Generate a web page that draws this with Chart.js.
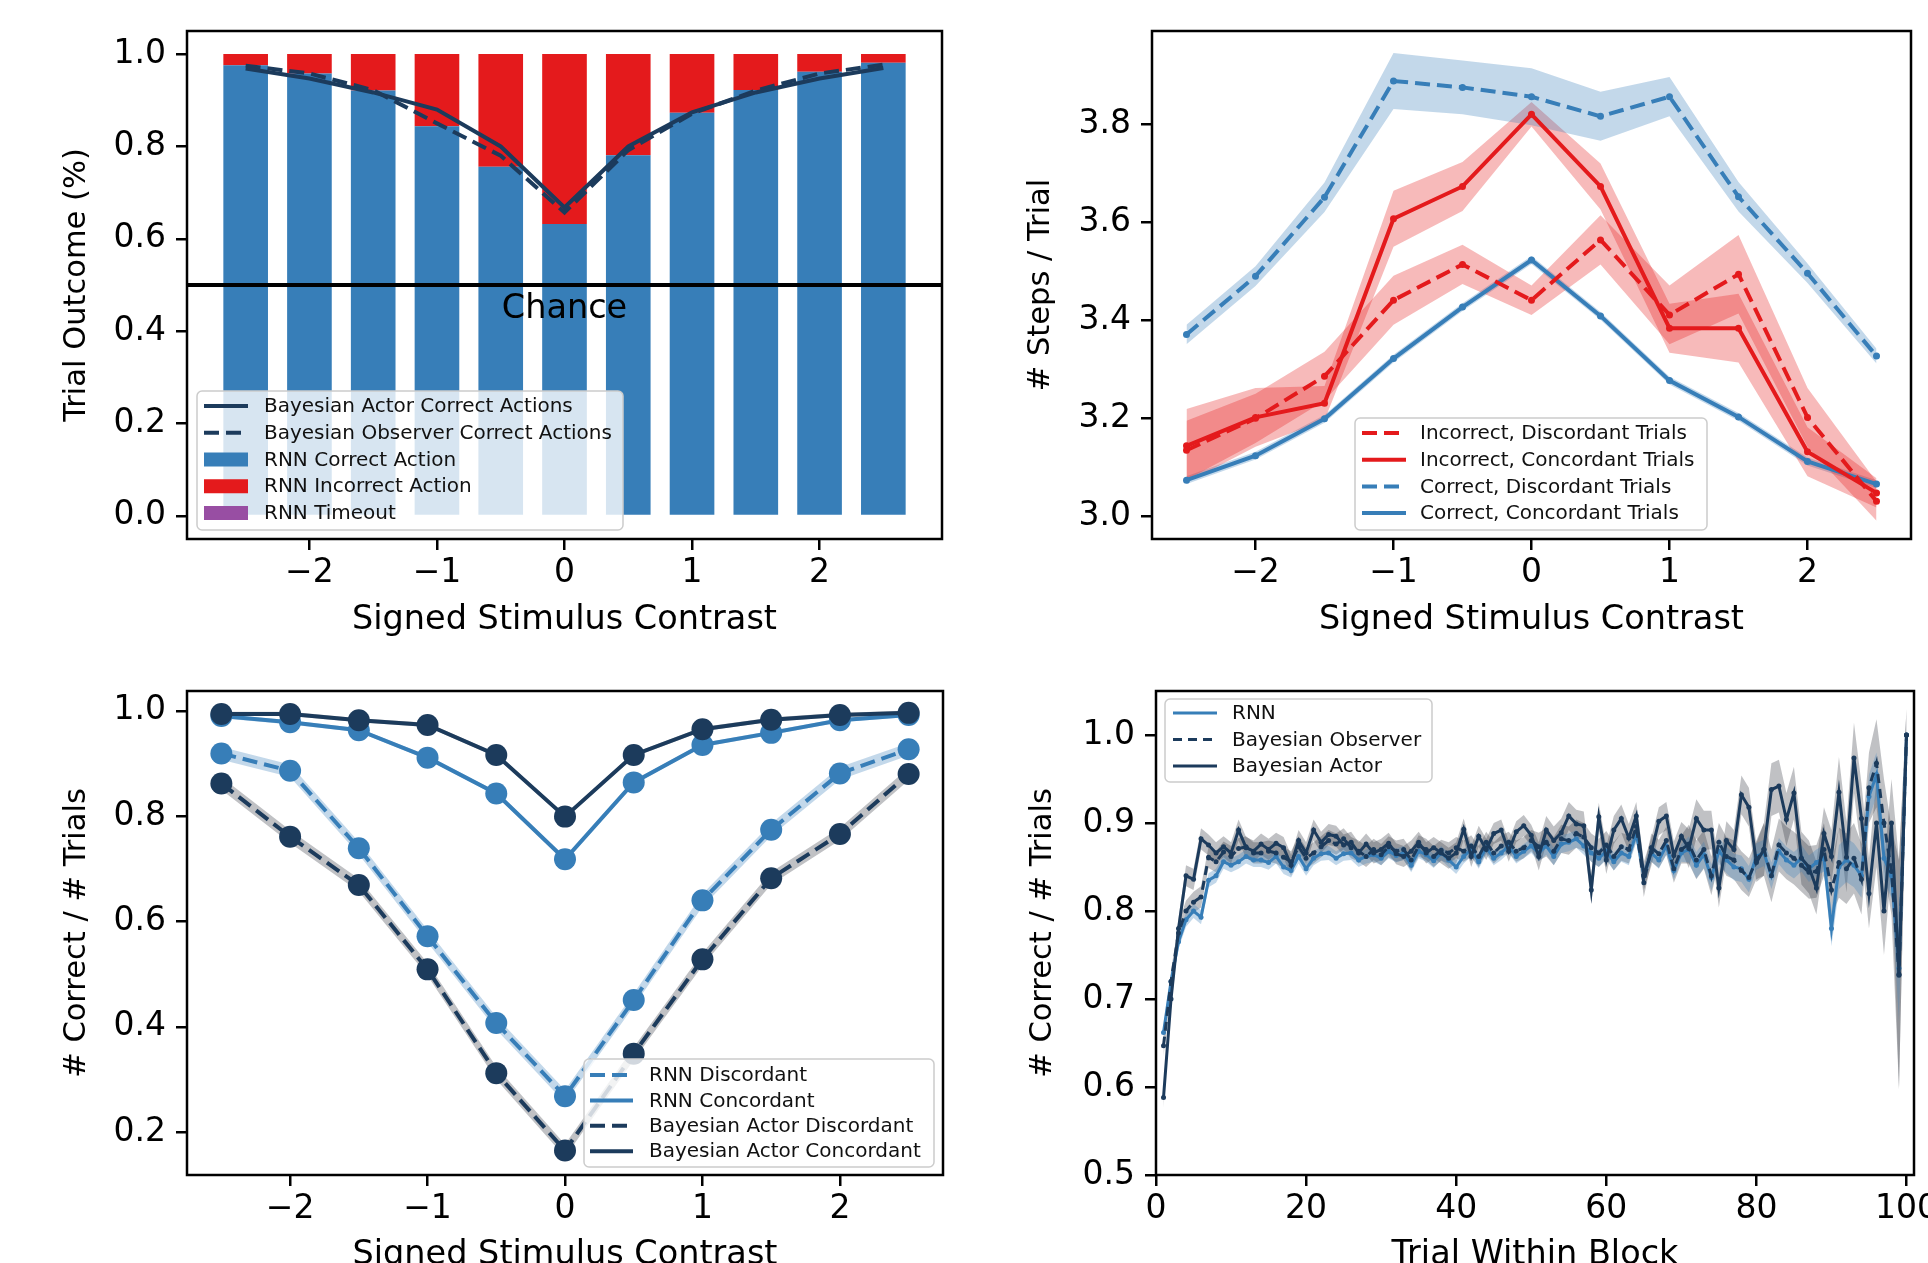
<!DOCTYPE html>
<html>
<head>
<meta charset="utf-8">
<script src="https://cdn.jsdelivr.net/npm/chart.js@4.4.0/dist/chart.umd.min.js"></script>
<style>
  html, body { margin: 0; padding: 0; background: #fff; width: 1928px; height: 1263px; overflow: hidden; position: relative; }
  .panel { position: absolute; }
</style>
</head>
<body>
<div class="panel" style="left:0;top:0;width:964px;height:640px"><canvas id="c1"></canvas></div>
<div class="panel" style="left:964px;top:0;width:1000px;height:640px"><canvas id="c2"></canvas></div>
<div class="panel" style="left:0;top:660px;width:964px;height:640px"><canvas id="c3"></canvas></div>
<div class="panel" style="left:964px;top:660px;width:1000px;height:640px"><canvas id="c4"></canvas></div>
<script>
// ---- data ----
const CONTRAST = [-2.5, -2, -1.5, -1, -0.5, 0, 0.5, 1, 1.5, 2, 2.5];
const CONTRAST_TICKS = [-2, -1, 0, 1, 2];

// top left: trial outcome
const rnnCorrect   = [0.976, 0.958, 0.921, 0.844, 0.756, 0.632, 0.781, 0.873, 0.922, 0.962, 0.981];
const rnnIncorrect = [0.024, 0.042, 0.079, 0.156, 0.244, 0.368, 0.219, 0.127, 0.078, 0.038, 0.019];
const rnnTimeout   = [0, 0, 0, 0, 0, 0, 0, 0, 0, 0, 0];
const actorCorrect    = [0.969, 0.947, 0.917, 0.880, 0.800, 0.668, 0.800, 0.874, 0.917, 0.947, 0.970];
const observerCorrect = [0.975, 0.958, 0.922, 0.850, 0.780, 0.657, 0.792, 0.871, 0.921, 0.958, 0.977];
const CHANCE = 0.5;
const OUTCOME_TICKS = [0, 0.2, 0.4, 0.6, 0.8, 1.0];

// top right: steps per trial
const incDisc     = [3.135, 3.200, 3.286, 3.441, 3.514, 3.441, 3.564, 3.411, 3.494, 3.202, 3.031];
const incDiscErr  = [0.060, 0.050, 0.050, 0.050, 0.040, 0.030, 0.050, 0.060, 0.080, 0.060, 0.040];
const incConc     = [3.144, 3.202, 3.231, 3.607, 3.673, 3.820, 3.673, 3.384, 3.384, 3.132, 3.048];
const incConcErr  = [0.075, 0.060, 0.035, 0.057, 0.050, 0.025, 0.047, 0.050, 0.070, 0.050, 0.030];
const corDisc     = [3.371, 3.490, 3.651, 3.888, 3.875, 3.856, 3.816, 3.856, 3.652, 3.496, 3.327];
const corDiscErr  = [0.020, 0.020, 0.030, 0.057, 0.055, 0.058, 0.050, 0.040, 0.030, 0.020, 0.015];
const corConc     = [3.074, 3.124, 3.199, 3.322, 3.427, 3.523, 3.409, 3.277, 3.203, 3.112, 3.066];
const corConcErr  = [0.008, 0.008, 0.008, 0.008, 0.008, 0.008, 0.008, 0.008, 0.008, 0.008, 0.008];
const STEPS_TICKS = [3.0, 3.2, 3.4, 3.6, 3.8];

// bottom left: correct fraction by contrast
const rnnDisc      = [0.919, 0.886, 0.739, 0.572, 0.407, 0.268, 0.451, 0.640, 0.774, 0.881, 0.927];
const rnnConc      = [0.990, 0.978, 0.963, 0.911, 0.843, 0.718, 0.864, 0.935, 0.958, 0.982, 0.992];
const actorDisc    = [0.862, 0.761, 0.669, 0.509, 0.312, 0.165, 0.349, 0.528, 0.682, 0.766, 0.880];
const actorConc    = [0.994, 0.994, 0.982, 0.973, 0.916, 0.799, 0.916, 0.965, 0.983, 0.992, 0.996];
const discErr      = [0.012, 0.012, 0.012, 0.012, 0.012, 0.012, 0.012, 0.012, 0.012, 0.012, 0.012];
const concErr      = [0.004, 0.004, 0.004, 0.004, 0.004, 0.004, 0.004, 0.004, 0.004, 0.004, 0.004];
const CORRECT_TICKS = [0.2, 0.4, 0.6, 0.8, 1.0];

// bottom right: correct fraction by trial within block
const TRIALS = [
  1, 2, 3, 4, 5, 6, 7, 8, 9, 10, 11, 12, 13, 14, 15, 16, 17, 18, 19, 20,
  21, 22, 23, 24, 25, 26, 27, 28, 29, 30, 31, 32, 33, 34, 35, 36, 37, 38, 39, 40,
  41, 42, 43, 44, 45, 46, 47, 48, 49, 50, 51, 52, 53, 54, 55, 56, 57, 58, 59, 60,
  61, 62, 63, 64, 65, 66, 67, 68, 69, 70, 71, 72, 73, 74, 75, 76, 77, 78, 79, 80,
  81, 82, 83, 84, 85, 86, 87, 88, 89, 90, 91, 92, 93, 94, 95, 96, 97, 98, 99, 100
];
const rnnByTrial = [
  0.662, 0.720, 0.765, 0.790, 0.800, 0.793, 0.835, 0.840, 0.856, 0.852,
  0.856, 0.862, 0.858, 0.858, 0.855, 0.862, 0.850, 0.846, 0.862, 0.848,
  0.860, 0.865, 0.866, 0.860, 0.865, 0.866, 0.858, 0.862, 0.864, 0.860,
  0.868, 0.863, 0.866, 0.852, 0.868, 0.864, 0.857, 0.866, 0.858, 0.850,
  0.862, 0.870, 0.856, 0.872, 0.860, 0.866, 0.874, 0.862, 0.868, 0.874,
  0.866, 0.874, 0.862, 0.876, 0.878, 0.882, 0.874, 0.866, 0.860, 0.868,
  0.856, 0.866, 0.862, 0.888, 0.840, 0.866, 0.858, 0.874, 0.846, 0.866,
  0.870, 0.852, 0.864, 0.838, 0.868, 0.858, 0.850, 0.848, 0.836, 0.862,
  0.866, 0.840, 0.868, 0.858, 0.852, 0.860, 0.848, 0.855, 0.860, 0.780,
  0.850, 0.858, 0.852, 0.840, 0.930, 0.955, 0.860, 0.840, 0.735, 1.000
];
const observerByTrial = [
  0.647, 0.720, 0.775, 0.800, 0.810, 0.816, 0.861, 0.856, 0.867, 0.862,
  0.871, 0.873, 0.866, 0.866, 0.868, 0.866, 0.861, 0.856, 0.873, 0.860,
  0.866, 0.873, 0.880, 0.876, 0.882, 0.872, 0.868, 0.862, 0.870, 0.864,
  0.873, 0.868, 0.870, 0.858, 0.874, 0.870, 0.862, 0.869, 0.866, 0.872,
  0.868, 0.874, 0.862, 0.878, 0.866, 0.874, 0.878, 0.868, 0.872, 0.880,
  0.873, 0.878, 0.868, 0.882, 0.880, 0.888, 0.884, 0.872, 0.866, 0.875,
  0.862, 0.873, 0.870, 0.896, 0.832, 0.872, 0.865, 0.880, 0.848, 0.870,
  0.876, 0.858, 0.870, 0.840, 0.878, 0.862, 0.858, 0.846, 0.838, 0.858,
  0.870, 0.840, 0.875, 0.866, 0.860, 0.852, 0.844, 0.845, 0.870, 0.824,
  0.855, 0.848, 0.860, 0.836, 0.940, 0.968, 0.900, 0.845, 0.728, 1.000
];
const actorByTrial = [
  0.588, 0.700, 0.780, 0.840, 0.836, 0.882, 0.875, 0.866, 0.873, 0.866,
  0.892, 0.872, 0.868, 0.876, 0.870, 0.877, 0.872, 0.852, 0.880, 0.866,
  0.892, 0.878, 0.887, 0.885, 0.875, 0.878, 0.866, 0.876, 0.866, 0.870,
  0.877, 0.865, 0.862, 0.868, 0.878, 0.866, 0.872, 0.866, 0.860, 0.866,
  0.893, 0.862, 0.885, 0.870, 0.888, 0.892, 0.868, 0.890, 0.897, 0.886,
  0.862, 0.892, 0.880, 0.889, 0.908, 0.899, 0.897, 0.824, 0.907, 0.858,
  0.892, 0.905, 0.883, 0.908, 0.840, 0.867, 0.902, 0.908, 0.863, 0.885,
  0.871, 0.905, 0.892, 0.892, 0.826, 0.880, 0.870, 0.932, 0.918, 0.855,
  0.870, 0.938, 0.942, 0.904, 0.934, 0.860, 0.850, 0.826, 0.888, 0.862,
  0.935, 0.861, 0.974, 0.905, 0.820, 0.900, 0.800, 0.900, 0.727, 1.000
];
const rnnTrialErr = [
  0.008, 0.008, 0.008, 0.008, 0.008, 0.008, 0.008, 0.008, 0.008, 0.008,
  0.008, 0.008, 0.008, 0.008, 0.008, 0.008, 0.008, 0.008, 0.008, 0.008,
  0.008, 0.008, 0.008, 0.008, 0.008, 0.008, 0.008, 0.008, 0.008, 0.008,
  0.008, 0.008, 0.008, 0.008, 0.008, 0.008, 0.008, 0.008, 0.008, 0.008,
  0.008, 0.008, 0.008, 0.008, 0.008, 0.008, 0.008, 0.008, 0.008, 0.008,
  0.010, 0.010, 0.010, 0.010, 0.010, 0.010, 0.010, 0.010, 0.010, 0.010,
  0.010, 0.010, 0.010, 0.010, 0.010, 0.010, 0.010, 0.010, 0.010, 0.010,
  0.015, 0.015, 0.015, 0.015, 0.015, 0.015, 0.015, 0.015, 0.015, 0.015,
  0.015, 0.015, 0.015, 0.015, 0.015, 0.015, 0.015, 0.015, 0.015, 0.020,
  0.025, 0.025, 0.025, 0.025, 0.025, 0.025, 0.025, 0.025, 0.060, 0.000
];
const bayesTrialErr = [
  0.012, 0.012, 0.012, 0.012, 0.012, 0.012, 0.012, 0.012, 0.012, 0.012,
  0.012, 0.012, 0.012, 0.012, 0.012, 0.012, 0.012, 0.012, 0.012, 0.012,
  0.012, 0.012, 0.012, 0.012, 0.012, 0.012, 0.012, 0.012, 0.012, 0.012,
  0.012, 0.012, 0.012, 0.012, 0.012, 0.012, 0.012, 0.012, 0.012, 0.012,
  0.012, 0.012, 0.012, 0.012, 0.012, 0.012, 0.012, 0.012, 0.012, 0.012,
  0.016, 0.016, 0.016, 0.016, 0.016, 0.016, 0.016, 0.016, 0.016, 0.016,
  0.016, 0.016, 0.016, 0.016, 0.016, 0.016, 0.016, 0.016, 0.016, 0.016,
  0.022, 0.022, 0.022, 0.022, 0.022, 0.022, 0.022, 0.022, 0.022, 0.022,
  0.030, 0.030, 0.030, 0.030, 0.030, 0.030, 0.030, 0.030, 0.030, 0.030,
  0.040, 0.040, 0.040, 0.040, 0.040, 0.050, 0.050, 0.050, 0.130, 0.030
];
const TRIAL_TICKS = [0, 20, 40, 60, 80, 100];
const TRIAL_Y_TICKS = [0.5, 0.6, 0.7, 0.8, 0.9, 1.0];

// ---- styling ----
const RED = '#e41a1c';
const BLUE = '#377eb8';
const PURPLE = '#984ea3';
const NAVY = '#1c3b5c';
const RED_BAND = 'rgba(228, 26, 28, 0.3)';
const BLUE_BAND = 'rgba(55, 126, 184, 0.3)';
const GREY_BAND = 'rgba(45, 50, 58, 0.3)';
const FONT = 'DejaVu Sans';
const TICK_SIZE = 33;
const TITLE_SIZE = 33.5;
const YTITLE_SIZE = 30.5;

Chart.defaults.font.family = FONT;
Chart.defaults.color = '#000';
Chart.defaults.animation = false;

const minus = v => String(v).replace('-', '\u2212');

function scales(o) {
  const tickGrid = { display: true, drawOnChartArea: false, drawTicks: true, tickLength: 11, color: '#000', lineWidth: 2.5 };
  return {
    x: {
      type: 'linear', min: o.xMin, max: o.xMax, offset: false,
      grid: Object.assign({ offset: false }, tickGrid),
      border: { display: false },
      afterBuildTicks: s => { s.ticks = o.xTicks.map(v => ({ value: v })); },
      afterFit: s => { s.height = o.xHeight; },
      ticks: { autoSkip: false, maxRotation: 0, padding: 4, font: { size: TICK_SIZE }, callback: v => o.xFmt(v) },
      title: { display: true, text: o.xTitle, font: { size: TITLE_SIZE }, padding: { top: 0, bottom: o.xTitlePad } }
    },
    y: {
      type: 'linear', min: o.yMin, max: o.yMax,
      grid: tickGrid,
      border: { display: false },
      afterBuildTicks: s => { s.ticks = o.yTicks.map(v => ({ value: v })); },
      afterFit: s => { s.width = o.yWidth; },
      ticks: { autoSkip: false, padding: 10, font: { size: TICK_SIZE }, callback: v => v.toFixed(1) },
      title: { display: true, text: o.yTitle, font: { size: YTITLE_SIZE }, padding: { top: o.yTitlePad, bottom: 0 } }
    }
  };
}

function pts(xs, ys) { return xs.map((x, i) => ({ x: x, y: ys[i] })); }

function band(xs, ys, err, color, order) {
  return [
    { type: 'line', data: xs.map((x, i) => ({ x: x, y: ys[i] + err[i] })), borderColor: 'rgba(0,0,0,0)', borderWidth: 0, pointRadius: 0, fill: false, order: order },
    { type: 'line', data: xs.map((x, i) => ({ x: x, y: ys[i] - err[i] })), borderColor: 'rgba(0,0,0,0)', borderWidth: 0, pointRadius: 0, fill: '-1', backgroundColor: color, order: order }
  ];
}

function line(xs, ys, color, o) {
  return Object.assign({
    type: 'line', data: pts(xs, ys), borderColor: color, backgroundColor: color,
    pointBackgroundColor: color, pointBorderWidth: 0, borderWidth: 4, tension: 0, fill: false
  }, o);
}

// extras per canvas: legend boxes, chance line
const EXTRA = {
  c1: {
    chance: { value: CHANCE, label: 'Chance', labelX: 0, labelY: 0.448 },
    legend: { x: 10, y: 360, w: 426, h: 139, row0: 15, gap: 26.75, h0: 7, h1: 51, tx: 67, items: [
      { label: 'Bayesian Actor Correct Actions', color: NAVY, width: 4 },
      { label: 'Bayesian Observer Correct Actions', color: NAVY, width: 4, dash: [15, 7] },
      { label: 'RNN Correct Action', color: BLUE, box: true },
      { label: 'RNN Incorrect Action', color: RED, box: true },
      { label: 'RNN Timeout', color: PURPLE, box: true }
    ] }
  },
  c2: {
    legend: { x: 203, y: 387, w: 352, h: 112, row0: 15, gap: 26.7, h0: 7, h1: 51, tx: 65, items: [
      { label: 'Incorrect, Discordant Trials', color: RED, width: 4, dash: [15, 7] },
      { label: 'Incorrect, Concordant Trials', color: RED, width: 4 },
      { label: 'Correct, Discordant Trials', color: BLUE, width: 4, dash: [15, 7] },
      { label: 'Correct, Concordant Trials', color: BLUE, width: 4 }
    ] }
  },
  c3: {
    legend: { x: 397, y: 368, w: 350, h: 108, row0: 16, gap: 25.4, h0: 6, h1: 49, tx: 65, items: [
      { label: 'RNN Discordant', color: BLUE, width: 4, dash: [15, 7] },
      { label: 'RNN Concordant', color: BLUE, width: 4 },
      { label: 'Bayesian Actor Discordant', color: NAVY, width: 4, dash: [15, 7] },
      { label: 'Bayesian Actor Concordant', color: NAVY, width: 4 }
    ] }
  },
  c4: {
    legend: { x: 9, y: 8, w: 267, h: 83, row0: 14, gap: 26.5, h0: 8, h1: 52, tx: 67, items: [
      { label: 'RNN', color: BLUE, width: 3 },
      { label: 'Bayesian Observer', color: NAVY, width: 3, dash: [9, 6] },
      { label: 'Bayesian Actor', color: NAVY, width: 3 }
    ] }
  }
};

function drawLegend(chart, lg) {
  const { ctx, chartArea: a } = chart;
  const x = a.left + lg.x, y = a.top + lg.y;
  ctx.save();
  ctx.beginPath();
  ctx.roundRect(x, y, lg.w, lg.h, 5);
  ctx.fillStyle = 'rgba(255,255,255,0.8)';
  ctx.fill();
  ctx.strokeStyle = '#cccccc';
  ctx.lineWidth = 1.5;
  ctx.stroke();
  lg.items.forEach((it, i) => {
    const cy = y + lg.row0 + i * lg.gap;
    if (it.box) {
      ctx.fillStyle = it.color;
      ctx.fillRect(x + lg.h0, cy - 7, lg.h1 - lg.h0, 14);
    } else {
      ctx.strokeStyle = it.color;
      ctx.lineWidth = it.width;
      ctx.setLineDash(it.dash || []);
      ctx.beginPath();
      ctx.moveTo(x + lg.h0, cy);
      ctx.lineTo(x + lg.h1, cy);
      ctx.stroke();
      ctx.setLineDash([]);
    }
    ctx.fillStyle = '#111';
    ctx.font = '20px "' + FONT + '"';
    ctx.textAlign = 'left';
    ctx.textBaseline = 'middle';
    ctx.fillText(it.label, x + lg.tx, cy + 1);
  });
  ctx.restore();
}

const framePlugin = {
  id: 'frame',
  afterDatasetsDraw(chart) {
    const spec = EXTRA[chart.canvas.id];
    if (!spec || !spec.chance) return;
    const { ctx, chartArea: a, scales: s } = chart;
    const ch = spec.chance;
    const y = s.y.getPixelForValue(ch.value);
    ctx.save();
    ctx.strokeStyle = '#000';
    ctx.lineWidth = 4;
    ctx.beginPath();
    ctx.moveTo(a.left, y);
    ctx.lineTo(a.right, y);
    ctx.stroke();
    ctx.fillStyle = '#000';
    ctx.font = TITLE_SIZE + 'px "' + FONT + '"';
    ctx.textAlign = 'center';
    ctx.textBaseline = 'middle';
    ctx.fillText(ch.label, s.x.getPixelForValue(ch.labelX), s.y.getPixelForValue(ch.labelY));
    ctx.restore();
  },
  afterDraw(chart) {
    const spec = EXTRA[chart.canvas.id];
    const { ctx, chartArea: a } = chart;
    if (spec && spec.legend) drawLegend(chart, spec.legend);
    ctx.save();
    ctx.strokeStyle = '#000';
    ctx.lineWidth = 2.5;
    ctx.strokeRect(a.left, a.top, a.right - a.left, a.bottom - a.top);
    ctx.restore();
  }
};

const baseOptions = (padding, sc) => ({
  responsive: true,
  maintainAspectRatio: false,
  animation: false,
  layout: { padding: padding },
  plugins: { legend: { display: false }, tooltip: { enabled: false } },
  scales: sc
});

// ---- top left ----
new Chart(document.getElementById('c1'), {
  type: 'bar',
  data: {
    datasets: [
      line(CONTRAST, actorCorrect, NAVY, { pointRadius: 0, order: 1 }),
      line(CONTRAST, observerCorrect, NAVY, { pointRadius: 0, borderDash: [15, 7], order: 1 }),
      { type: 'bar', data: CONTRAST.map((x, i) => ({ x: x, y: [0, rnnCorrect[i]] })), backgroundColor: BLUE, grouped: false, barPercentage: 0.7, categoryPercentage: 1, order: 3 },
      { type: 'bar', data: CONTRAST.map((x, i) => ({ x: x, y: [rnnCorrect[i], rnnCorrect[i] + rnnIncorrect[i]] })), backgroundColor: RED, grouped: false, barPercentage: 0.7, categoryPercentage: 1, order: 3 },
      { type: 'bar', data: CONTRAST.map((x, i) => ({ x: x, y: [rnnCorrect[i] + rnnIncorrect[i], rnnCorrect[i] + rnnIncorrect[i] + rnnTimeout[i]] })), backgroundColor: PURPLE, grouped: false, barPercentage: 0.7, categoryPercentage: 1, order: 3 }
    ]
  },
  options: baseOptions({ left: 0, top: 31, right: 22, bottom: 0 }, scales({
    xMin: -2.96, xMax: 2.96, xTicks: CONTRAST_TICKS, xFmt: minus, xHeight: 101, xTitle: 'Signed Stimulus Contrast', xTitlePad: 0,
    yMin: -0.05, yMax: 1.05, yTicks: OUTCOME_TICKS, yWidth: 187, yTitle: 'Trial Outcome (%)', yTitlePad: 59
  })),
  plugins: [framePlugin]
});

// ---- top right ----
new Chart(document.getElementById('c2'), {
  type: 'line',
  data: {
    datasets: [
      ...band(CONTRAST, corDisc, corDiscErr, BLUE_BAND, 10),
      ...band(CONTRAST, incConc, incConcErr, RED_BAND, 10),
      ...band(CONTRAST, incDisc, incDiscErr, RED_BAND, 10),
      ...band(CONTRAST, corConc, corConcErr, BLUE_BAND, 10),
      line(CONTRAST, corDisc, BLUE, { pointRadius: 3.5, borderDash: [15, 7], order: 2 }),
      line(CONTRAST, corConc, BLUE, { pointRadius: 3.5, order: 2 }),
      line(CONTRAST, incDisc, RED, { pointRadius: 3.5, borderDash: [15, 7], order: 1 }),
      line(CONTRAST, incConc, RED, { pointRadius: 3.5, order: 1 })
    ]
  },
  options: baseOptions({ left: 0, top: 31, right: 53, bottom: 0 }, scales({
    xMin: -2.75, xMax: 2.75, xTicks: CONTRAST_TICKS, xFmt: minus, xHeight: 101, xTitle: 'Signed Stimulus Contrast', xTitlePad: 0,
    yMin: 2.954, yMax: 3.99, yTicks: STEPS_TICKS, yWidth: 188, yTitle: '# Steps / Trial', yTitlePad: 59
  })),
  plugins: [framePlugin]
});

// ---- bottom left ----
new Chart(document.getElementById('c3'), {
  type: 'line',
  data: {
    datasets: [
      ...band(CONTRAST, rnnDisc, discErr, BLUE_BAND, 10),
      ...band(CONTRAST, actorDisc, discErr, GREY_BAND, 10),
      ...band(CONTRAST, rnnConc, concErr, BLUE_BAND, 10),
      ...band(CONTRAST, actorConc, concErr, GREY_BAND, 10),
      line(CONTRAST, rnnDisc, BLUE, { pointRadius: 11, borderDash: [15, 7], order: 3 }),
      line(CONTRAST, rnnConc, BLUE, { pointRadius: 11, order: 3 }),
      line(CONTRAST, actorDisc, NAVY, { pointRadius: 11, borderDash: [15, 7], order: 2 }),
      line(CONTRAST, actorConc, NAVY, { pointRadius: 11, order: 1 })
    ]
  },
  options: baseOptions({ left: 0, top: 31, right: 21, bottom: 0 }, scales({
    xMin: -2.75, xMax: 2.75, xTicks: CONTRAST_TICKS, xFmt: minus, xHeight: 125, xTitle: 'Signed Stimulus Contrast', xTitlePad: 25,
    yMin: 0.1186, yMax: 1.0375, yTicks: CORRECT_TICKS, yWidth: 187, yTitle: '# Correct / # Trials', yTitlePad: 59
  })),
  plugins: [framePlugin]
});

// ---- bottom right ----
new Chart(document.getElementById('c4'), {
  type: 'line',
  data: {
    datasets: [
      ...band(TRIALS, rnnByTrial, rnnTrialErr, BLUE_BAND, 10),
      ...band(TRIALS, observerByTrial, bayesTrialErr, GREY_BAND, 10),
      ...band(TRIALS, actorByTrial, bayesTrialErr, GREY_BAND, 10),
      line(TRIALS, rnnByTrial, BLUE, { pointRadius: 2.5, borderWidth: 3, order: 3 }),
      line(TRIALS, observerByTrial, NAVY, { pointRadius: 2.5, borderWidth: 3, borderDash: [9, 6], order: 2 }),
      line(TRIALS, actorByTrial, NAVY, { pointRadius: 2.5, borderWidth: 3, order: 1 })
    ]
  },
  options: baseOptions({ left: 0, top: 31, right: 50, bottom: 0 }, scales({
    xMin: 0, xMax: 101, xTicks: TRIAL_TICKS, xFmt: v => String(v), xHeight: 125, xTitle: 'Trial Within Block', xTitlePad: 25,
    yMin: 0.5, yMax: 1.05, yTicks: TRIAL_Y_TICKS, yWidth: 192, yTitle: '# Correct / # Trials', yTitlePad: 61
  })),
  plugins: [framePlugin]
});
</script>
</body>
</html>
